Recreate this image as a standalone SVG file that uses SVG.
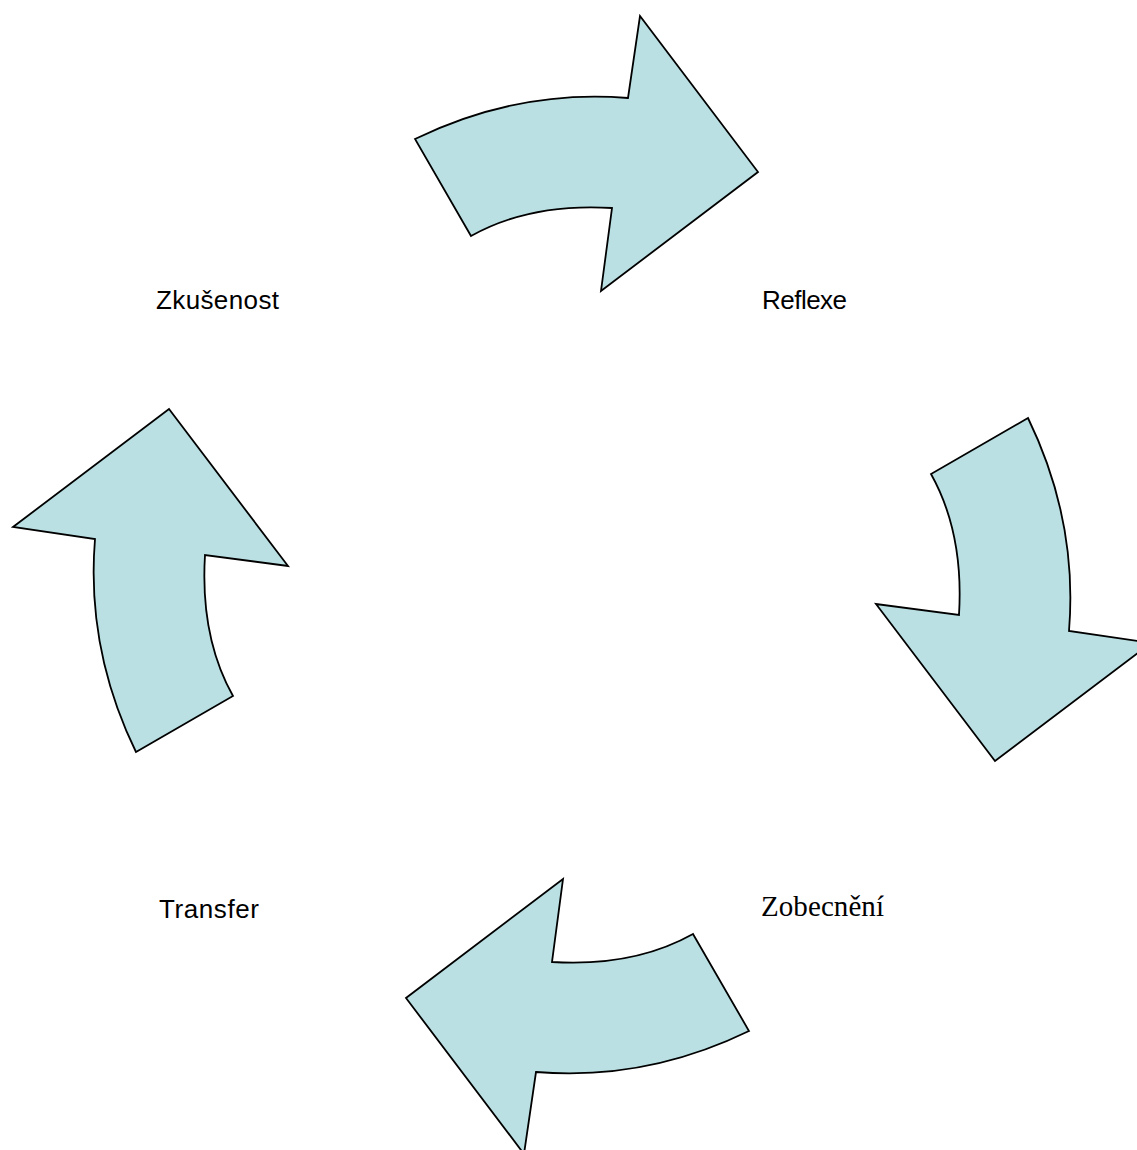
<svg xmlns="http://www.w3.org/2000/svg" xmlns:xlink="http://www.w3.org/1999/xlink" width="1137" height="1150" viewBox="0 0 1137 1150">
  <style>
    .arrow { fill: #BAE0E3; stroke: #000000; stroke-width: 1.8; stroke-linejoin: miter; }
    .lbl { font-family: "Liberation Sans", Arial, sans-serif; font-size: 26px; fill: #000000; }
    .lbl-serif { font-family: "Liberation Serif", "Times New Roman", serif; font-size: 29px; fill: #000000; }
  </style>
  <defs>
    <path id="curvedArrow" d="M415,139 Q518,89 628,98 L640,16 L758,172 L601,291 L612,208 Q530,203 471,236 Z"/>
  </defs>
  <rect x="0" y="0" width="1137" height="1150" fill="#FFFFFF"/>
  <g id="connectors">
    <use id="arrow-top" xlink:href="#curvedArrow" class="arrow"/>
    <use id="arrow-right" xlink:href="#curvedArrow" class="arrow" transform="rotate(90 582 585)"/>
    <use id="arrow-bottom" xlink:href="#curvedArrow" class="arrow" transform="rotate(180 582 585)"/>
    <use id="arrow-left" xlink:href="#curvedArrow" class="arrow" transform="rotate(270 582 585)"/>
  </g>
  <g id="node-zkusenost">
    <text class="lbl" x="156" y="309" textLength="123" lengthAdjust="spacing">Zkušenost</text>
  </g>
  <g id="node-reflexe">
    <text class="lbl" x="762" y="309" textLength="85" lengthAdjust="spacing">Reflexe</text>
  </g>
  <g id="node-zobecneni">
    <text class="lbl-serif" x="761" y="916" textLength="123" lengthAdjust="spacing">Zobecnění</text>
  </g>
  <g id="node-transfer">
    <text class="lbl" x="159" y="918" textLength="100" lengthAdjust="spacing">Transfer</text>
  </g>
</svg>
